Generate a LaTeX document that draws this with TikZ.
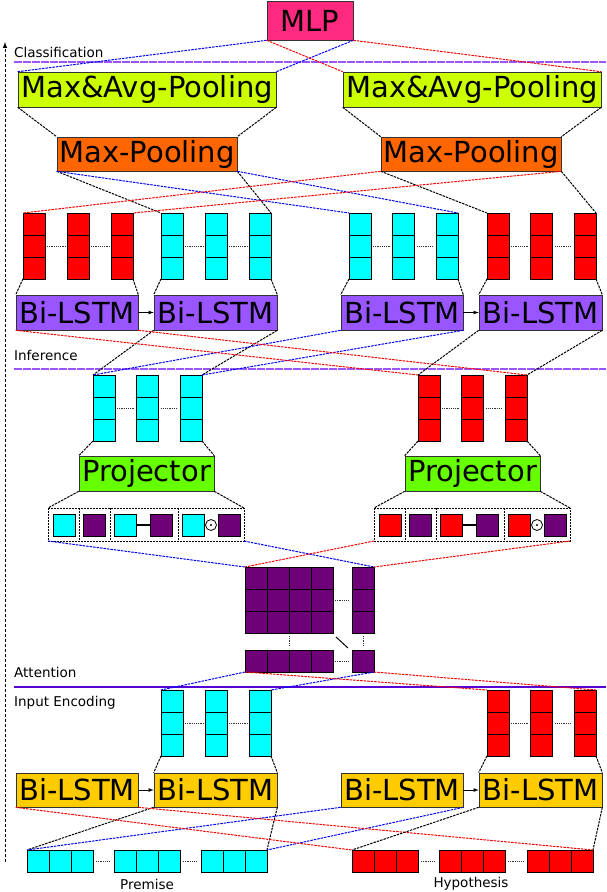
\documentclass[tikz,border=0pt]{standalone}
\usepackage{fontspec}
\setmainfont{DejaVu Sans}
\begin{document}
\begin{tikzpicture}[x=1pt,y=-1pt,
  box/.style={draw=black!80,line width=0.6pt,inner sep=0pt,font=\fontsize{29}{29}\selectfont},
  lnk/.style={line width=1pt,dash pattern=on 2.5pt off 1pt},
  blk/.style={lnk,black},
  bl/.style={lnk,blue},
  rd/.style={lnk,red},
  cell/.style={draw=black,line width=0.9pt},
  dots/.style={line width=1pt,dash pattern=on 1.2pt off 1pt,black!80},
  lab/.style={font=\fontsize{13.5}{13.5}\selectfont,anchor=base west,inner sep=0pt}]
\definecolor{mlp}{HTML}{FF2A7F}
\definecolor{lime}{HTML}{CCFF00}
\definecolor{orng}{HTML}{FF6600}
\definecolor{lpur}{HTML}{9955FF}
\definecolor{prj}{HTML}{66FF00}
\definecolor{gold}{HTML}{FFCC00}
\definecolor{dpur}{HTML}{6E0078}
\definecolor{lnpur}{HTML}{5500D4}
\definecolor{cya}{HTML}{00FFFF}
\definecolor{re}{HTML}{FF0000}
\useasboundingbox (0,0) rectangle (606,892);
\newcommand\colvec[4]{\foreach \k in {0,1,2}{\draw[cell,fill=#4] (#2,#3+22*\k) rectangle ++(22,22);}
  \coordinate (#1tl) at (#2,#3); \coordinate (#1tr) at (#2+22,#3);
  \coordinate (#1bl) at (#2,#3+66); \coordinate (#1br) at (#2+22,#3+66);}
\newcommand\vgroup[5]{%
  \colvec{#1a}{#2}{#3}{#4}\colvec{#1b}{#2+#5}{#3}{#4}\colvec{#1c}{#2+2*#5}{#3}{#4}
  \draw[dots] (#2+24,#3+33) -- (#2+#5-2,#3+33);
  \draw[dots] (#2+#5+24,#3+33) -- (#2+2*#5-2,#3+33);}
\newcommand\rowvec[4]{\foreach \k in {0,1,2}{\draw[cell,fill=#4] (#2+22*\k,#3) rectangle ++(22,22);}
  \coordinate (#1l) at (#2,#3); \coordinate (#1r) at (#2+66,#3);}

\draw[-latex,line width=1pt,dash pattern=on 3pt off 2pt] (5,862) -- (5,42);
\node[lab] (lc) at (14,57) {Classification};
\node[lab] (li) at (14,360) {Inference};
\node[lab] (la) at (14,677) {Attention};
\node[lab] (le) at (14,706) {Input Encoding};
\draw[lpur,line width=1.2pt,dash pattern=on 8pt off 1pt] (14,62) -- (606,62);
\draw[lpur,line width=1.2pt,dash pattern=on 8pt off 1pt] (14,369) -- (606,369);
\draw[lnpur,line width=1.4pt] (14,687) -- (606,687);

\node[box,fill=mlp,minimum width=86,minimum height=39] (mlp) at (310,20.5) {MLP};
\node[box,fill=lime,minimum width=258,minimum height=35] (ma1) at (147,89.5) {Max\&Avg-Pooling};
\node[box,fill=lime,minimum width=258,minimum height=35] (ma2) at (472,89.5) {Max\&Avg-Pooling};
\node[box,fill=orng,minimum width=180,minimum height=34] (mp1) at (147,154) {Max-Pooling};
\node[box,fill=orng,minimum width=180,minimum height=34] (mp2) at (471,154) {Max-Pooling};
\draw[bl] (mlp.south west) -- (ma1.north west);
\draw[bl] (mlp.south east) -- (ma1.north east);
\draw[rd] (mlp.south west) -- (ma2.north west);
\draw[rd] (mlp.south east) -- (ma2.north east);
\foreach \a/\b in {ma1/mp1,ma2/mp2}{
  \draw[blk] (\a.south west) -- (\b.north west);
  \draw[blk] (\a.south east) -- (\b.north east);}

\vgroup{cA}{23}{213}{re}{44}
\vgroup{cB}{161}{213}{cya}{44}
\vgroup{cC}{349}{213}{cya}{43.5}
\vgroup{cD}{487}{213}{re}{43.5}
\draw[blk] (mp1.south west) -- (cBatl);
\draw[blk] (mp1.south east) -- (cBctr);
\draw[bl] (mp1.south west) -- (cCatl);
\draw[bl] (mp1.south east) -- (cCctr);
\draw[blk] (mp2.south west) -- (cDatl);
\draw[blk] (mp2.south east) -- (cDctr);
\draw[rd] (mp2.south west) -- (cAatl);
\draw[rd] (mp2.south east) -- (cActr);

\node[box,fill=lpur,minimum width=122,minimum height=35] (b1) at (77,312.5) {Bi-LSTM};
\node[box,fill=lpur,minimum width=123,minimum height=35] (b2) at (215.5,312.5) {Bi-LSTM};
\node[box,fill=lpur,minimum width=122,minimum height=35] (b3) at (402,312.5) {Bi-LSTM};
\node[box,fill=lpur,minimum width=123,minimum height=35] (b4) at (540.5,312.5) {Bi-LSTM};
\draw[-latex,line width=0.8pt] (b1) -- (b2);
\draw[-latex,line width=0.8pt] (b3) -- (b4);
\foreach \g/\b in {cA/b1,cB/b2,cC/b3,cD/b4}{
  \draw[blk] (\g abl) -- (\b.north west);
  \draw[blk] (\g cbr) -- (\b.north east);}

\vgroup{iA}{93}{375}{cya}{43.5}
\vgroup{iB}{418}{375}{re}{43.5}
\draw[blk] (b2.south west) -- (iAatl);
\draw[blk] (b2.south east) -- (iActr);
\draw[bl] (b3.south west) -- (iAatl);
\draw[bl] (b3.south east) -- (iActr);
\draw[rd] (b1.south west) -- (iBatl);
\draw[rd] (b1.south east) -- (iBctr);
\draw[blk] (b4.south west) -- (iBatl);
\draw[blk] (b4.south east) -- (iBctr);

\node[box,fill=prj,minimum width=135,minimum height=35] (p1) at (146.5,473.5) {Projector};
\node[box,fill=prj,minimum width=135,minimum height=35] (p2) at (472.5,473.5) {Projector};
\draw[blk] (iAabl) -- (p1.north west);
\draw[blk] (iAcbr) -- (p1.north east);
\draw[blk] (iBabl) -- (p2.north west);
\draw[blk] (iBcbr) -- (p2.north east);

\newcommand\concat[3]{%
  \draw[line width=1pt,dash pattern=on 2pt off 1pt] (#2,508) rectangle (#2+196,541);
  \foreach \s in {31,62,130}{\draw[line width=1pt,dash pattern=on 2pt off 1pt] (#2+\s,508) -- (#2+\s,541);}
  \draw[cell,fill=#3] (#2+5,514) rectangle ++(22,22);
  \draw[cell,fill=dpur] (#2+35,514) rectangle ++(22,22);
  \draw[cell,fill=#3] (#2+66,514) rectangle ++(22,22);
  \draw[line width=1.2pt] (#2+88,525) -- (#2+102,525);
  \draw[cell,fill=dpur] (#2+102,514) rectangle ++(22,22);
  \draw[cell,fill=#3] (#2+134,514) rectangle ++(22,22);
  \draw[line width=0.8pt] (#2+163,525) circle (5.5);
  \fill (#2+163,525) circle (1.1);
  \draw[cell,fill=dpur] (#2+170,514) rectangle ++(22,22);
  \coordinate (#1tl) at (#2,508); \coordinate (#1tr) at (#2+196,508);
  \coordinate (#1bl) at (#2,541); \coordinate (#1br) at (#2+196,541);}
\concat{k1}{48}{cya}
\concat{k2}{374}{re}
\draw[blk] (p1.south west) -- (k1tl);
\draw[blk] (p1.south east) -- (k1tr);
\draw[blk] (p2.south west) -- (k2tl);
\draw[blk] (p2.south east) -- (k2tr);

\foreach \i in {0,...,3}{\foreach \j in {0,1,2}{\draw[cell,fill=dpur] (245+22*\i,567+22*\j) rectangle ++(22,22);}}
\foreach \j in {0,1,2}{\draw[cell,fill=dpur] (352,567+22*\j) rectangle ++(22,22);}
\foreach \i in {0,...,3}{\draw[cell,fill=dpur] (245+22*\i,650) rectangle ++(22,22);}
\draw[cell,fill=dpur] (352,650) rectangle ++(22,22);
\coordinate (mtl) at (245,567); \coordinate (mtr) at (374,567);
\coordinate (mbl) at (245,672); \coordinate (mbr) at (374,672);
\draw[dots] (335,600) -- (349,600);
\draw[dots] (335,661) -- (349,661);
\draw[dots] (289,636) -- (289,647);
\draw[dots] (363,636) -- (363,647);
\draw[line width=1pt] (336,637) -- (348,648);
\draw[bl] (k1bl) -- (mtl);
\draw[bl] (k1br) -- (mtr);
\draw[rd] (k2bl) -- (mtl);
\draw[rd] (k2br) -- (mtr);

\vgroup{eA}{161}{690}{cya}{44}
\vgroup{eB}{487}{690}{re}{43.5}
\draw[bl] (mbl) -- (eAatl);
\draw[bl] (mbr) -- (eActr);
\draw[rd] (mbl) -- (eBatl);
\draw[rd] (mbr) -- (eBctr);

\node[box,fill=gold,minimum width=122,minimum height=34] (e1) at (77,790) {Bi-LSTM};
\node[box,fill=gold,minimum width=123,minimum height=34] (e2) at (215.5,790) {Bi-LSTM};
\node[box,fill=gold,minimum width=122,minimum height=34] (e3) at (402,790) {Bi-LSTM};
\node[box,fill=gold,minimum width=123,minimum height=34] (e4) at (540.5,790) {Bi-LSTM};
\draw[-latex,line width=0.8pt] (e1) -- (e2);
\draw[-latex,line width=0.8pt] (e3) -- (e4);
\draw[blk] (eAabl) -- (e2.north west);
\draw[blk] (eAcbr) -- (e2.north east);
\draw[blk] (eBabl) -- (e4.north west);
\draw[blk] (eBcbr) -- (e4.north east);

\rowvec{sa}{27}{850}{cya}\rowvec{sb}{114}{850}{cya}\rowvec{sc}{201}{850}{cya}
\rowvec{ta}{352}{850}{re}\rowvec{tb}{439}{850}{re}\rowvec{tc}{527}{850}{re}
\draw[dots] (96,861) -- (111,861); \draw[dots] (183,861) -- (198,861);
\draw[dots] (421,861) -- (436,861); \draw[dots] (508,861) -- (524,861);
\node[font=\fontsize{13.5}{13.5}\selectfont,inner sep=0pt] (pr) at (147,884) {Premise};
\node[font=\fontsize{13.5}{13.5}\selectfont,inner sep=0pt] (hy) at (471,884) {Hypothesis};
\draw[blk] (e2.south west) -- (sal);
\draw[blk] (e2.south east) -- (scr);
\draw[bl] (e3.south west) -- (sal);
\draw[bl] (e3.south east) -- (scr);
\draw[rd] (e1.south west) -- (tal);
\draw[rd] (e1.south east) -- (tcr);
\draw[blk] (e4.south west) -- (tal);
\draw[blk] (e4.south east) -- (tcr);
\end{tikzpicture}
\end{document}
